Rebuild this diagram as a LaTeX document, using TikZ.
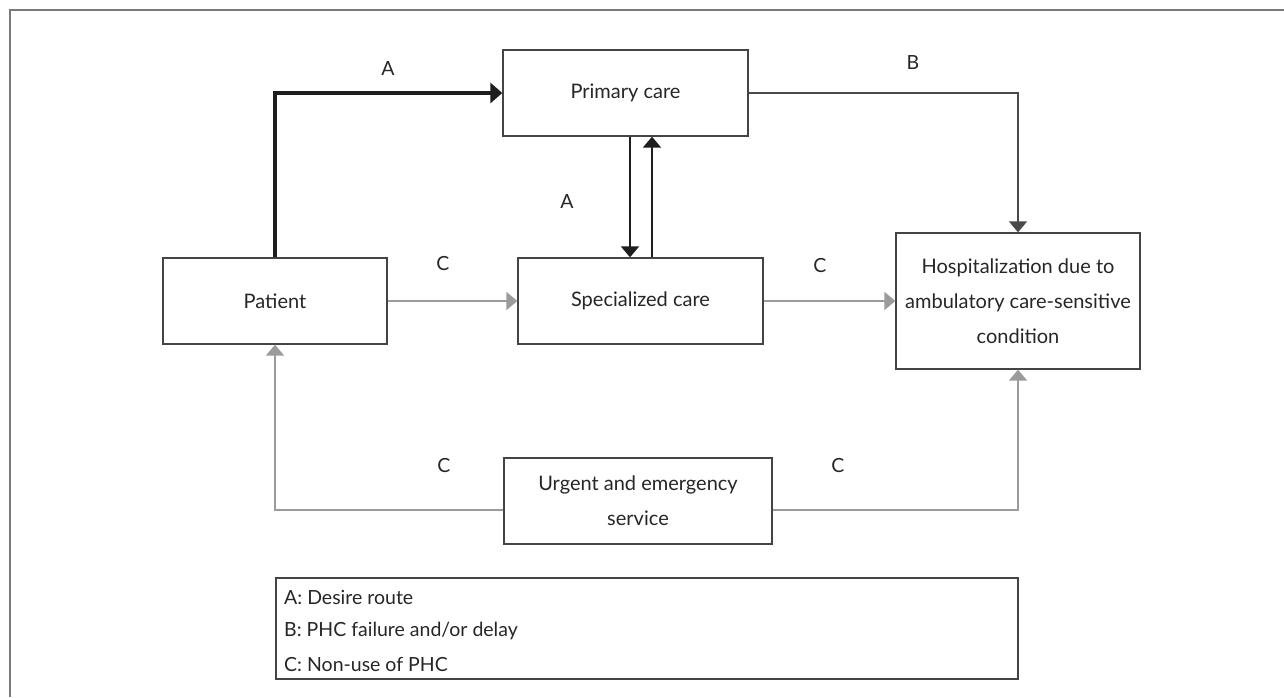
\documentclass[tikz,border=0pt]{standalone}
\usepackage{fontspec}
\setmainfont{Lato}
\usetikzlibrary{arrows.meta,calc}
\definecolor{boxline}{HTML}{444444}
\definecolor{darkline}{HTML}{1E1E1E}
\definecolor{bline}{HTML}{4A4A4A}
\definecolor{cline}{HTML}{9B9B9B}
\definecolor{frameline}{HTML}{7A7A7A}
\definecolor{txt}{HTML}{262626}
\tikzset{
  boxnode/.style={draw=boxline, line width=1.3pt, rectangle, align=center, text=txt, font=\fontsize{20}{35}\selectfont, inner sep=0pt},
  lbl/.style={text=txt, font=\fontsize{19.5}{22}\selectfont, inner sep=0pt},
  arrA/.style={draw=darkline, line width=2pt, -{Triangle[length=11pt,width=18pt]}},
  arrAthick/.style={draw=darkline, line width=3.2pt, -{Triangle[length=12pt,width=20pt]}},
  arrB/.style={draw=bline, line width=1.8pt, -{Triangle[length=11pt,width=18pt]}},
  arrC/.style={draw=cline, line width=1.8pt, -{Triangle[length=11pt,width=18pt]}},
}
\begin{document}
\begin{tikzpicture}[x=1pt,y=-1pt]
\useasboundingbox (0,0) rectangle (1284,697);
\draw[frameline, line width=2.5pt] (10,697) -- (10,10) -- (1284,10);

\node[boxnode, minimum width=245pt, minimum height=86pt] (primary) at (625.5,93) {Primary care};
\node[boxnode, minimum width=224pt, minimum height=86pt] (patient) at (275,301) {Patient};
\node[boxnode, minimum width=245pt, minimum height=86pt] (spec) at (640.5,301) {Specialized care};
\node[boxnode, minimum width=244pt, minimum height=136pt] (hosp) at (1018,301) {Hospitalization due to\\ambulatory care-sensitive\\condition};
\node[boxnode, minimum width=268pt, minimum height=86pt] (urgent) at (638,501) {Urgent and emergency\\service};
\node[draw=boxline, line width=1.3pt, rectangle, minimum width=742pt, minimum height=101pt, inner sep=0pt] (legend) at (647,628.5) {};
\node[lbl, anchor=west] (la) at (284,597) {A: Desire route};
\node[lbl, anchor=west] (lb) at (284,631) {B: PHC failure and/or delay};
\node[lbl, anchor=west] (lc) at (284,664) {C: Non-use of PHC};

\coordinate (dx) at (630,0);
\coordinate (ux) at (652,0);

\draw[arrAthick] (patient.north) |- (primary.west);
\draw[arrA] (dx |- primary.south) -- (dx |- spec.north);
\draw[arrA] (ux |- spec.north) -- (ux |- primary.south);
\draw[arrB] (primary.east) -| (hosp.north);
\draw[arrC] (patient.east) -- (spec.west);
\draw[arrC] (spec.east) -- (hosp.west);
\draw[arrC] ($(urgent.west)+(0,9)$) -| (patient.south);
\draw[arrC] ($(urgent.east)+(0,9)$) -| (hosp.south);

\node[lbl] (tA1) at (388,69) {A};
\node[lbl] (tA2) at (567,202) {A};
\node[lbl] (tB) at (913,63) {B};
\node[lbl] (tC1) at (443,264) {C};
\node[lbl] (tC2) at (820,266) {C};
\node[lbl] (tC3) at (444,466) {C};
\node[lbl] (tC4) at (838,466) {C};
\end{tikzpicture}
\end{document}
